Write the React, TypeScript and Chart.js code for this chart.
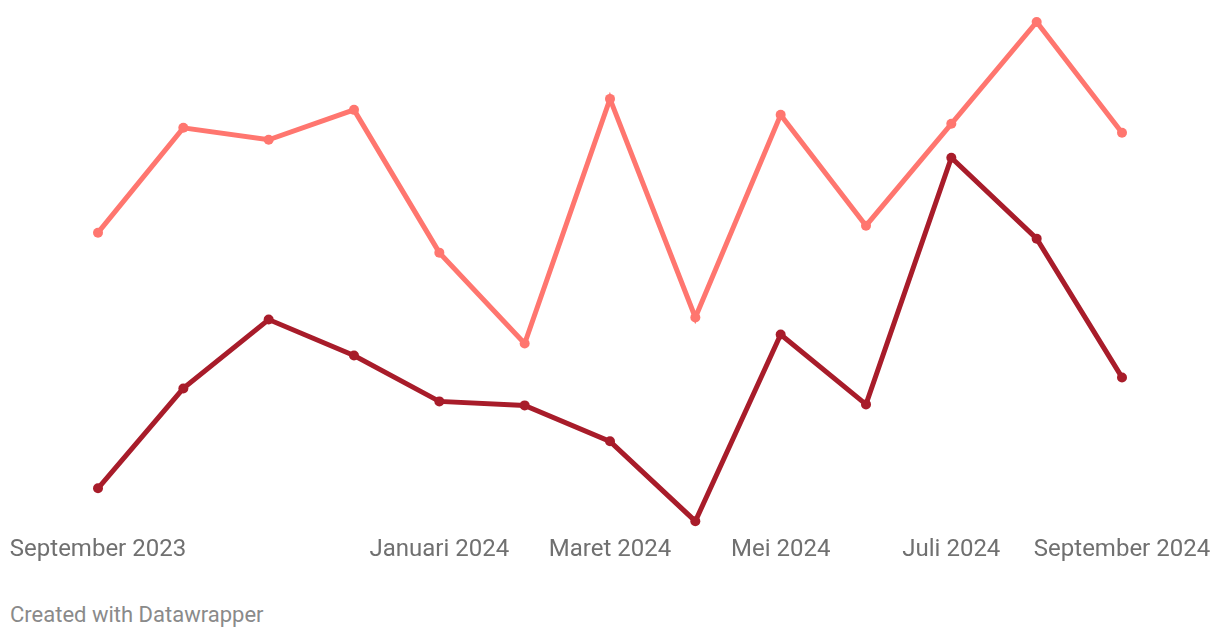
import React, { useEffect, useRef } from "react";
import { Chart, registerables } from "chart.js";

Chart.register(...registerables);

const months = [
  "September 2023", "Oktober 2023", "November 2023", "Desember 2023",
  "Januari 2024", "Februari 2024", "Maret 2024", "April 2024",
  "Mei 2024", "Juni 2024", "Juli 2024", "Agustus 2024", "September 2024",
];
const shownLabels = ["September 2023", "Januari 2024", "Maret 2024", "Mei 2024", "Juli 2024", "September 2024"];
const seriesLight = [57.8, 78.8, 76.4, 82.4, 53.8, 35.6, 84.6, 40.8, 81.4, 59.2, 79.6, 100, 77.8];
const seriesDark = [6.6, 26.6, 40.4, 33.2, 24, 23.2, 16, 0, 37.4, 23.4, 72.8, 56.6, 28.8];

export default function App() {
  const ref = useRef<HTMLCanvasElement | null>(null);
  useEffect(() => {
    if (!ref.current) return;
    const chart = new Chart(ref.current, {
      type: "line",
      data: {
        labels: months,
        datasets: [
          {
            label: "A",
            data: seriesLight,
            borderColor: "#ff766f",
            backgroundColor: "#ff766f",
            borderWidth: 5,
            pointRadius: 5,
            pointBorderWidth: 0,
            pointBackgroundColor: "#ff766f",
            tension: 0,
            clip: false as any,
          },
          {
            label: "B",
            data: seriesDark,
            borderColor: "#a81c2a",
            backgroundColor: "#a81c2a",
            borderWidth: 5,
            pointRadius: 5,
            pointBorderWidth: 0,
            pointBackgroundColor: "#a81c2a",
            tension: 0,
            clip: false as any,
          },
        ],
      },
      options: {
        animation: false,
        responsive: false,
        layout: { padding: { top: 14, left: 90, right: 90, bottom: 0 } },
        plugins: { legend: { display: false }, tooltip: { enabled: false } },
        scales: {
          x: {
            offset: false,
            grid: { display: false, drawTicks: false },
            border: { display: false },
            afterFit: (scale: any) => {
              scale.paddingLeft = 0;
              scale.paddingRight = 0;
            },
            ticks: {
              autoSkip: false,
              maxRotation: 0,
              padding: 14,
              color: "#707070",
              font: { family: "Roboto", size: 24 },
              callback: (_v: any, i: number) => (shownLabels.includes(months[i]) ? months[i] : ""),
            },
          },
          y: { display: false, min: 0, max: 100 },
        },
      },
    });
    return () => chart.destroy();
  }, []);
  return (
    <div style={{ position: "relative", width: 1204, height: 622 }}>
      <canvas ref={ref} width={1204} height={570} style={{ display: "block" }} />
      <div
        style={{
          position: "absolute",
          left: 2,
          top: 594,
          fontFamily: "Roboto",
          fontSize: 22,
          color: "#8a8a8a",
          lineHeight: "26px",
        }}
      >
        Created with Datawrapper
      </div>
    </div>
  );
}
